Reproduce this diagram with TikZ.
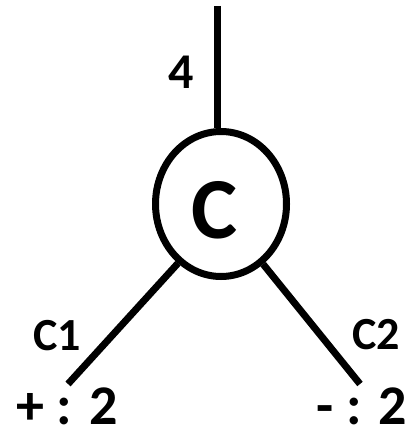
\documentclass[tikz,border=0pt]{standalone}
\usepackage{fontspec}
\setmainfont{Carlito}
\usetikzlibrary{shapes.geometric}
\begin{document}
\begin{tikzpicture}[x=1pt,y=-1pt,
  wire/.style={line width=7pt},
  lbl/.style={inner sep=0pt,font=\bfseries}]
\useasboundingbox (0,0) rectangle (411,438);
\node[ellipse,draw,line width=7pt,minimum width=131pt,minimum height=145pt,inner sep=0pt] (C) at (221,204) {};
\node[lbl,font=\bfseries\fontsize{87}{87}\selectfont] (Ct) at (215,210) {C};
\coordinate (top) at (217,6);
\coordinate (le) at (68,384);
\coordinate (re) at (360,384);
\draw[wire] (top) -- (C.north -| top);
\draw[wire] (C.-126) -- (le);
\draw[wire] (C.-55) -- (re);
\node[lbl,font=\bfseries\fontsize{50}{50}\selectfont] (four) at (181,72) {4};
\node[lbl,font=\bfseries\fontsize{46}{46}\selectfont] (c1) at (57,336) {C1};
\node[lbl,font=\bfseries\fontsize{46}{46}\selectfont] (c2) at (376,335) {C2};
\node[lbl,font=\bfseries\fontsize{56}{56}\selectfont] (p) at (67,406) {+ : 2};
\node[lbl,font=\bfseries\fontsize{56}{56}\selectfont] (m) at (362,406) {- : 2};
\end{tikzpicture}
\end{document}
